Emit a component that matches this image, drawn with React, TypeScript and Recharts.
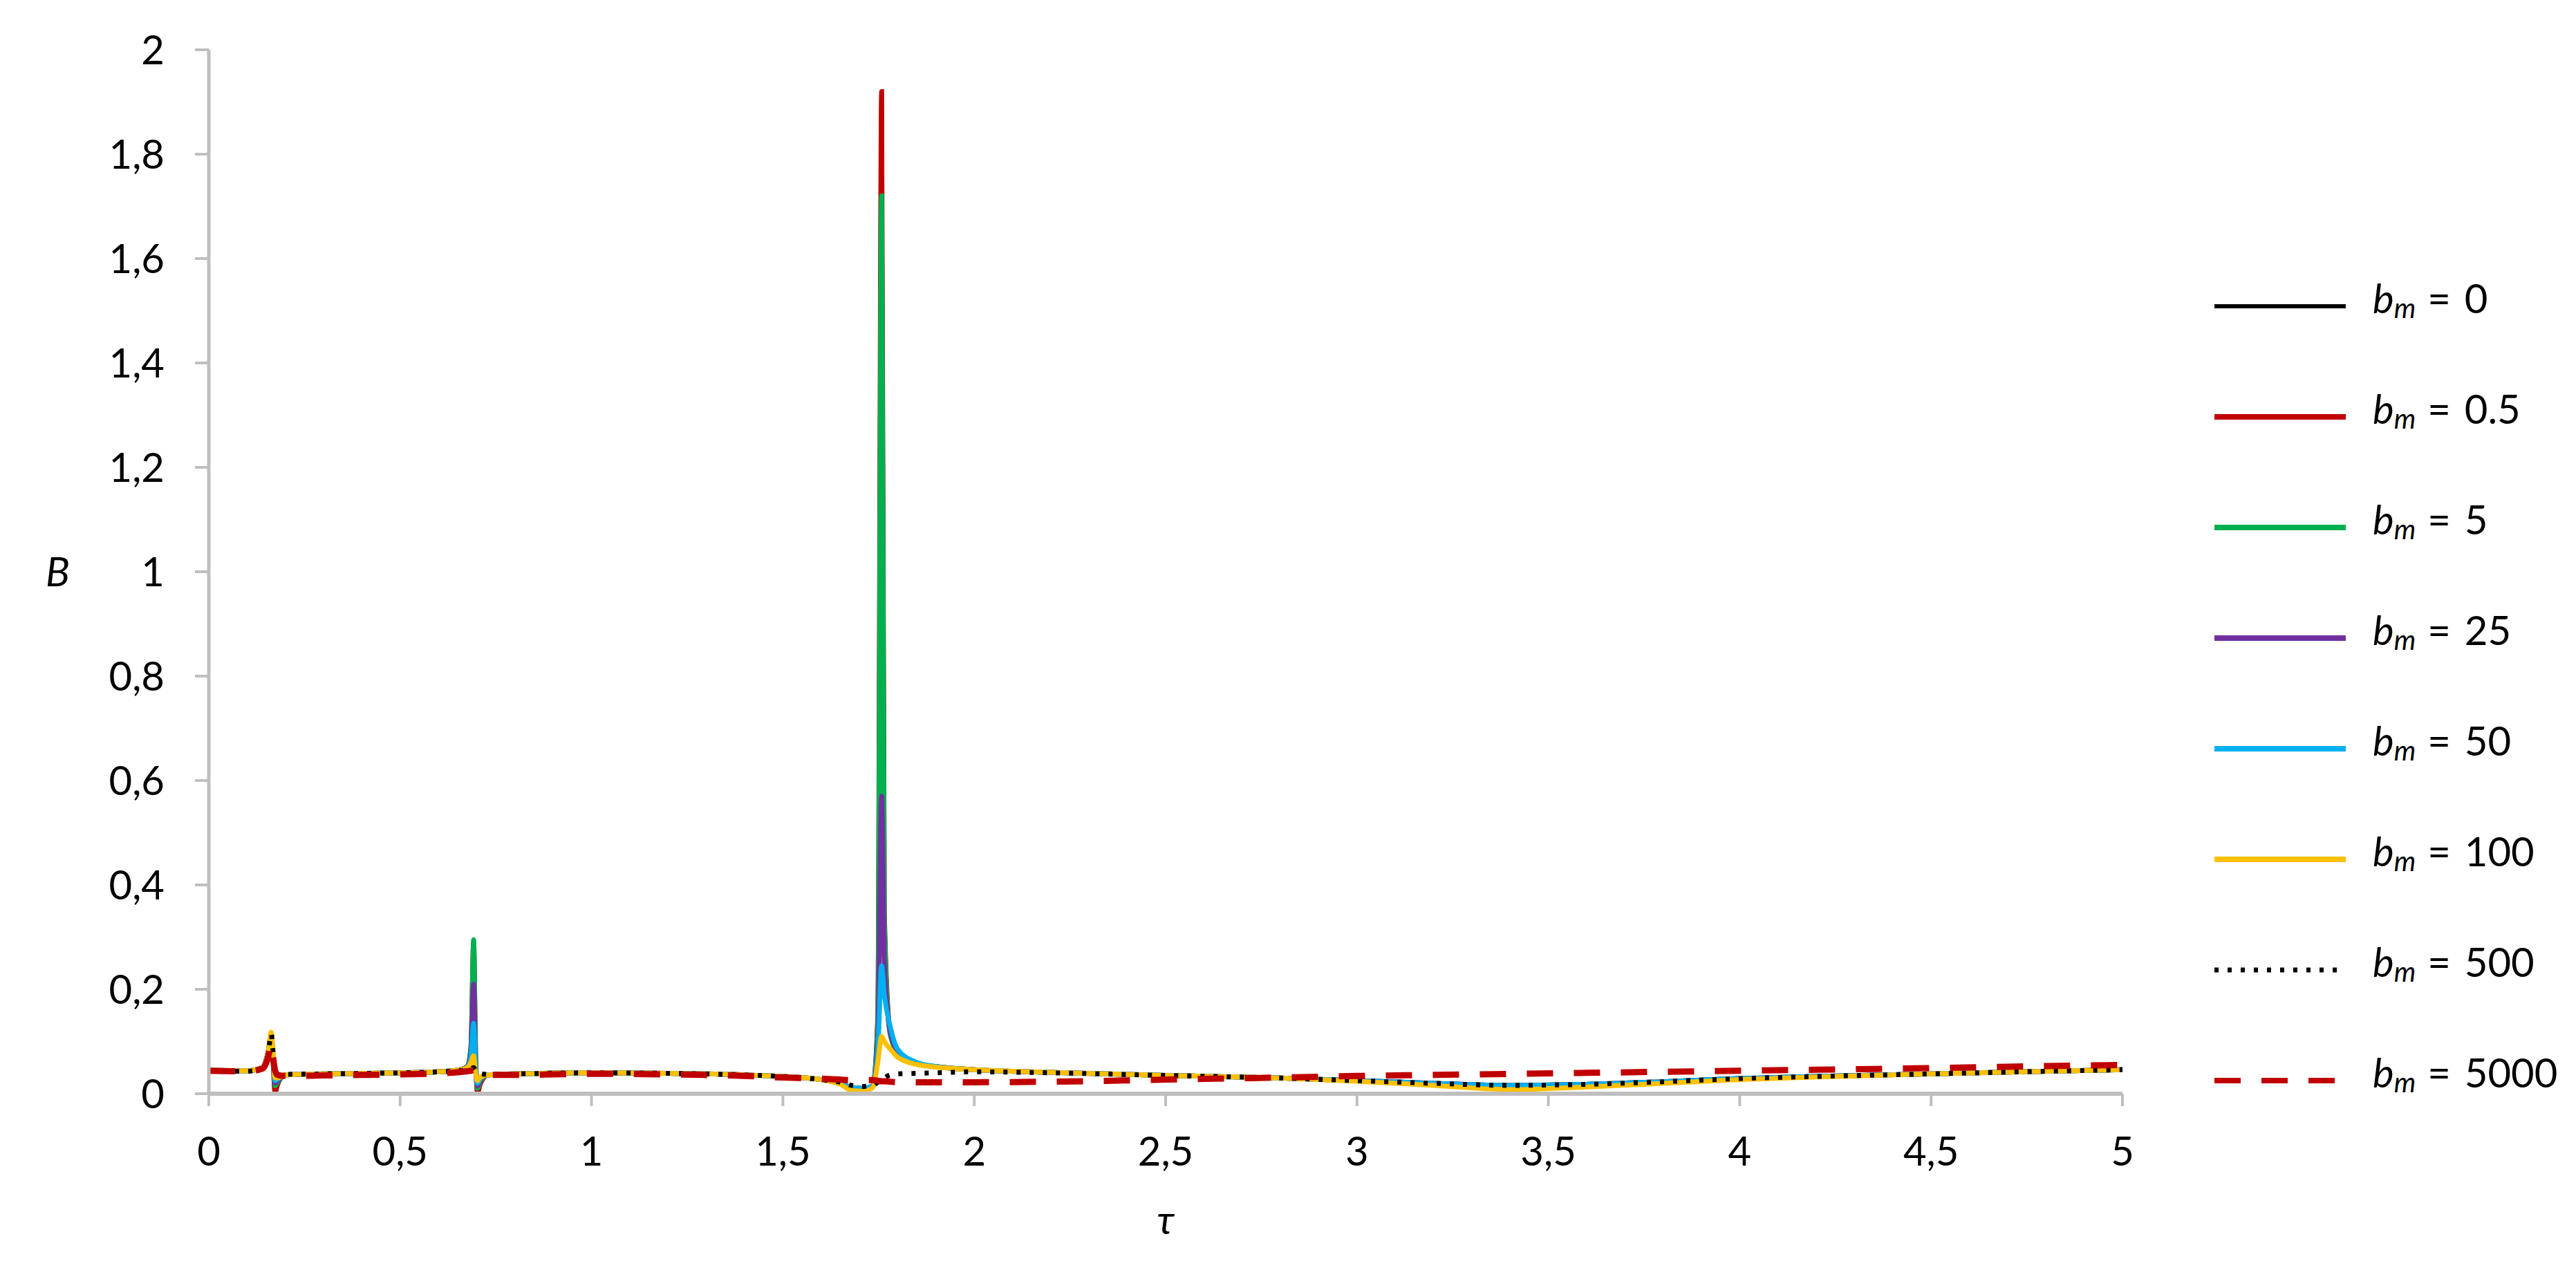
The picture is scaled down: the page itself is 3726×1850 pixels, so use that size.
import React from 'react';
import { LineChart, Line, XAxis, YAxis, Legend } from 'recharts';

const TAU = [
  0, 0.1, 0.14, 0.155, 0.163, 0.168, 0.173, 0.18, 0.2, 0.3,
  0.4, 0.5, 0.6, 0.65, 0.675, 0.685, 0.692, 0.697, 0.702, 0.71,
  0.73, 0.8, 1.0, 1.2, 1.4, 1.5, 1.6, 1.65, 1.68, 1.71,
  1.735, 1.748, 1.758, 1.765, 1.78, 1.8, 1.85, 1.9, 2.0, 2.2,
  2.5, 2.8, 3.0, 3.2, 3.4, 3.6, 3.8, 4.0, 4.2, 4.5,
  4.8, 5.0,
];

const B_0 = [
  0.045, 0.044, 0.05, 0.08, 0.11, 0.06, 0.0, 0.018, 0.036, 0.038,
  0.039, 0.04, 0.042, 0.045, 0.052, 0.09, 0.29, 0.08, 0.0, 0.02,
  0.036, 0.038, 0.04, 0.039, 0.036, 0.033, 0.027, 0.02, 0.012, 0.01,
  0.015, 0.15, 1.92, 0.35, 0.12, 0.08, 0.058, 0.052, 0.046, 0.041,
  0.035, 0.03, 0.025, 0.02, 0.016, 0.018, 0.023, 0.029, 0.033, 0.038,
  0.043, 0.046,
];

const B_05 = [
  0.045, 0.044, 0.05, 0.08, 0.108, 0.06, 0.003, 0.018, 0.036, 0.038,
  0.039, 0.04, 0.042, 0.045, 0.052, 0.09, 0.29, 0.08, 0.003, 0.02,
  0.036, 0.038, 0.04, 0.039, 0.036, 0.033, 0.027, 0.02, 0.012, 0.01,
  0.015, 0.15, 1.92, 0.35, 0.12, 0.08, 0.058, 0.052, 0.046, 0.041,
  0.035, 0.03, 0.025, 0.02, 0.016, 0.018, 0.023, 0.029, 0.033, 0.038,
  0.043, 0.046,
];

const B_5 = [
  0.045, 0.044, 0.05, 0.08, 0.112, 0.065, 0.015, 0.022, 0.036, 0.038,
  0.039, 0.04, 0.042, 0.045, 0.052, 0.09, 0.295, 0.08, 0.01, 0.025,
  0.036, 0.038, 0.04, 0.039, 0.036, 0.033, 0.027, 0.02, 0.012, 0.01,
  0.015, 0.14, 1.72, 0.33, 0.115, 0.08, 0.058, 0.052, 0.046, 0.041,
  0.035, 0.03, 0.025, 0.02, 0.016, 0.018, 0.023, 0.029, 0.033, 0.038,
  0.043, 0.046,
];

const B_25 = [
  0.045, 0.044, 0.05, 0.08, 0.113, 0.068, 0.02, 0.025, 0.036, 0.038,
  0.039, 0.04, 0.042, 0.045, 0.051, 0.08, 0.21, 0.06, 0.015, 0.028,
  0.036, 0.038, 0.04, 0.039, 0.036, 0.033, 0.027, 0.02, 0.012, 0.01,
  0.015, 0.1, 0.57, 0.25, 0.12, 0.082, 0.058, 0.052, 0.046, 0.041,
  0.035, 0.03, 0.025, 0.02, 0.016, 0.018, 0.023, 0.029, 0.033, 0.038,
  0.043, 0.046,
];

const B_50 = [
  0.045, 0.044, 0.05, 0.08, 0.115, 0.072, 0.025, 0.028, 0.036, 0.038,
  0.039, 0.04, 0.042, 0.045, 0.05, 0.07, 0.135, 0.05, 0.02, 0.03,
  0.036, 0.038, 0.04, 0.039, 0.036, 0.033, 0.027, 0.02, 0.012, 0.01,
  0.015, 0.08, 0.245, 0.19, 0.13, 0.085, 0.06, 0.052, 0.046, 0.041,
  0.035, 0.03, 0.025, 0.02, 0.016, 0.018, 0.023, 0.029, 0.033, 0.038,
  0.043, 0.046,
];

const B_100 = [
  0.045, 0.044, 0.05, 0.08, 0.118, 0.078, 0.03, 0.03, 0.036, 0.038,
  0.039, 0.04, 0.042, 0.045, 0.05, 0.06, 0.073, 0.04, 0.025, 0.032,
  0.036, 0.038, 0.04, 0.039, 0.036, 0.033, 0.027, 0.018, 0.006, 0.005,
  0.012, 0.06, 0.11, 0.1, 0.086, 0.07, 0.056, 0.051, 0.046, 0.041,
  0.035, 0.03, 0.024, 0.016, 0.008, 0.013, 0.02, 0.027, 0.032, 0.038,
  0.043, 0.046,
];

const B_500 = [
  0.044, 0.043, 0.048, 0.075, 0.115, 0.08, 0.04, 0.035, 0.037, 0.038,
  0.039, 0.04, 0.042, 0.044, 0.046, 0.048, 0.05, 0.045, 0.04, 0.038,
  0.037, 0.038, 0.04, 0.039, 0.036, 0.033, 0.027, 0.022, 0.016, 0.014,
  0.016, 0.022, 0.026, 0.03, 0.036, 0.038, 0.039, 0.04, 0.042, 0.04,
  0.035, 0.03, 0.025, 0.02, 0.016, 0.018, 0.023, 0.029, 0.033, 0.038,
  0.043, 0.046,
];

const B_5000 = [
  0.044, 0.043, 0.048, 0.07, 0.095, 0.07, 0.045, 0.036, 0.034, 0.035,
  0.036, 0.037, 0.039, 0.041, 0.043, 0.044, 0.045, 0.043, 0.04, 0.037,
  0.036, 0.036, 0.038, 0.037, 0.034, 0.031, 0.029, 0.027, 0.026, 0.026,
  0.026, 0.025, 0.024, 0.024, 0.023, 0.022, 0.022, 0.022, 0.022, 0.023,
  0.027, 0.031, 0.034, 0.036, 0.038, 0.04, 0.042, 0.044, 0.046, 0.049,
  0.053, 0.055,
];

const SERIES_KEYS = ['bm0', 'bm05', 'bm5', 'bm25', 'bm50', 'bm100', 'bm500', 'bm5000'];
const SERIES_VALUES = [B_0, B_05, B_5, B_25, B_50, B_100, B_500, B_5000];
const SERIES_LABELS = ['0', '0.5', '5', '25', '50', '100', '500', '5000'];
const SERIES_COLORS = ['#000000', '#c00000', '#00b050', '#7030a0', '#00b0f0', '#ffc000', '#000000', '#c00000'];
const SERIES_DASH = [undefined, undefined, undefined, undefined, undefined, undefined, '6 13', '38 30'];
const SERIES_WIDTH = [6, 7, 7, 7, 7, 7, 7, 9];
const LEGEND_WIDTH = [6, 8, 8, 8, 8, 8, 7, 8];

const X_TICKS = [0, 0.5, 1, 1.5, 2, 2.5, 3, 3.5, 4, 4.5, 5];
const Y_TICKS = [0, 0.2, 0.4, 0.6, 0.8, 1, 1.2, 1.4, 1.6, 1.8, 2];

const data = TAU.map((t, i) => {
  const row: Record<string, number> = { tau: t };
  SERIES_KEYS.forEach((k, j) => {
    row[k] = SERIES_VALUES[j][i];
  });
  return row;
});

const fmt = (v: number) => String(Number(v.toFixed(1))).replace('.', ',');

const FONT = 'Lato, "Open Sans", sans-serif';
const AXIS_GRAY = '#bfbfbf';

const LEG_TOP = 360;
const ROW0 = 75;

const renderLegend = () => (
  <svg width={560} height={1280} style={{ overflow: 'visible' }}>
    {SERIES_KEYS.map((k, i) => {
      const y = ROW0 + 160 * i;
      return (
        <g key={k}>
          <line
            x1={45}
            x2={i === 6 ? 228 : 235}
            y1={y}
            y2={y}
            stroke={SERIES_COLORS[i]}
            strokeWidth={LEGEND_WIDTH[i]}
            strokeDasharray={SERIES_DASH[i]}
          />
          <text x={274} y={y + 10} fontSize={58} fontFamily={FONT} fill="#000">
            <tspan fontStyle="italic">b</tspan>
            <tspan fontStyle="italic" fontSize={40} dy={7}>m</tspan>
            <tspan dy={-7} dx={17}>=</tspan>
            <tspan dx={20}>{SERIES_LABELS[i]}</tspan>
          </text>
        </g>
      );
    })}
  </svg>
);

export default function App() {
  return (
    <div style={{ width: 3710, height: 1834, position: 'relative', fontFamily: FONT, background: '#fff' }}>
      <LineChart width={3710} height={1834} data={data} margin={{ top: 64, right: 648, bottom: 0, left: 0 }}>
        <XAxis
          dataKey="tau"
          type="number"
          domain={[0, 5]}
          ticks={X_TICKS}
          interval={0}
          tickFormatter={fmt}
          height={260}
          axisLine={{ stroke: AXIS_GRAY, strokeWidth: 6 }}
          tickLine={{ stroke: AXIS_GRAY, strokeWidth: 4 }}
          tickSize={18}
          tickMargin={45}
          tick={{ fill: '#000', fontSize: 58, fontFamily: FONT }}
          label={{ value: 'τ', position: 'insideBottom', offset: 57, fontSize: 58, fontStyle: 'italic', fill: '#000', fontFamily: FONT }}
        />
        <YAxis
          type="number"
          domain={[0, 2]}
          ticks={Y_TICKS}
          interval={0}
          tickFormatter={fmt}
          width={294}
          axisLine={{ stroke: AXIS_GRAY, strokeWidth: 5 }}
          tickLine={{ stroke: AXIS_GRAY, strokeWidth: 4 }}
          tickSize={20}
          tickMargin={44}
          tick={{ fill: '#000', fontSize: 58, fontFamily: FONT }}
          label={{ value: 'B', position: 'insideLeft', offset: 58, fontSize: 58, fontStyle: 'italic', fill: '#000', fontFamily: FONT }}
        />
        <Legend
          content={renderLegend}
          layout="vertical"
          align="center"
          verticalAlign="middle"
          wrapperStyle={{ left: 3150, top: LEG_TOP, width: 560, height: 1280 }}
        />
        {SERIES_KEYS.map((k, i) => (
          <Line
            key={k}
            dataKey={k}
            name={`bm = ${SERIES_LABELS[i]}`}
            type="monotone"
            stroke={SERIES_COLORS[i]}
            strokeWidth={SERIES_WIDTH[i]}
            strokeDasharray={SERIES_DASH[i]}
            dot={false}
            activeDot={false}
            isAnimationActive={false}
          />
        ))}
      </LineChart>
    </div>
  );
}
